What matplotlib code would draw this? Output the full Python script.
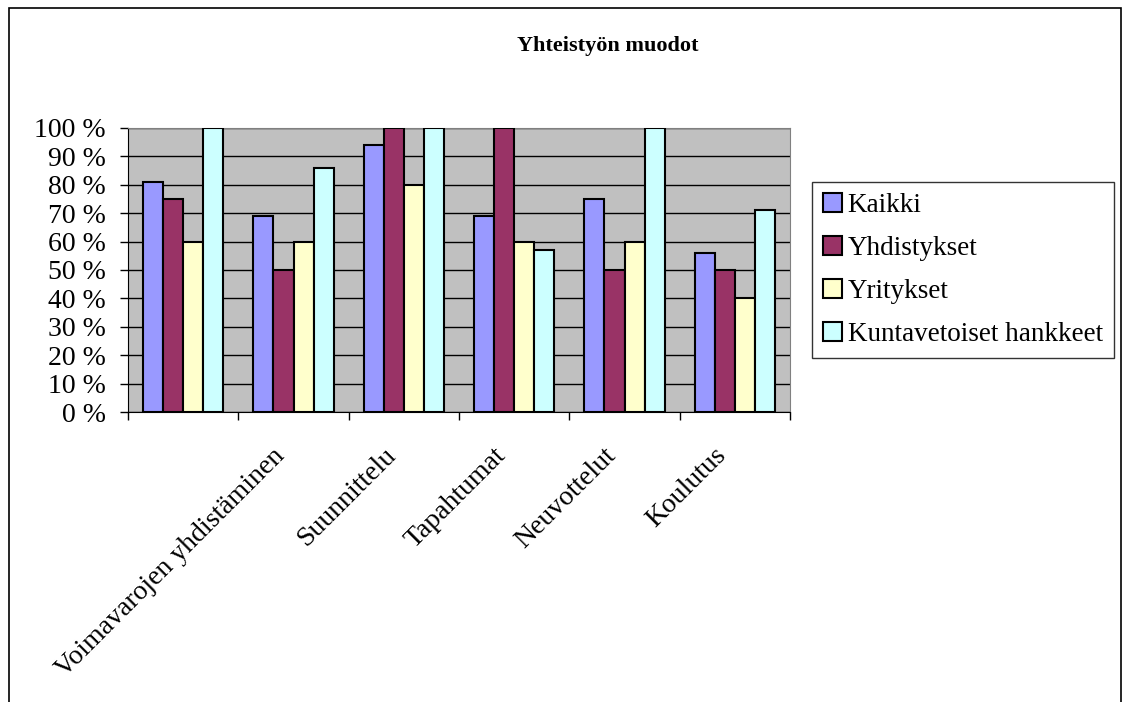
import matplotlib
matplotlib.use("Agg")
import matplotlib.pyplot as plt
import numpy as np
from matplotlib.patches import Rectangle

# data (percent); first group has no visible label
categories = ["", "Voimavarojen yhdistäminen", "Suunnittelu", "Tapahtumat",
              "Neuvottelut", "Koulutus"]
series_names = ["Kaikki", "Yhdistykset", "Yritykset", "Kuntavetoiset hankkeet"]
kaikki = [81, 69, 94, 69, 75, 56]
yhdistykset = [75, 50, 100, 100, 50, 50]
yritykset = [60, 60, 80, 60, 60, 40]
kunta = [100, 86, 100, 57, 100, 71]
colors = ["#9999FF", "#993366", "#FFFFCC", "#CCFFFF"]
yticks = list(range(0, 101, 10))

plt.rcParams['font.family'] = ['Liberation Serif', 'DejaVu Serif']

fig = plt.figure(figsize=(11.23, 7.02), dpi=100)
ax = fig.add_axes([0.114, 0.4131, 0.5895, 0.4046])
ax.set_facecolor("#C0C0C0")

x = np.arange(len(categories))
w = 1 / 5.5
allvals = [kaikki, yhdistykset, yritykset, kunta]
for i, vals in enumerate(allvals):
    ax.bar(x + (i - 1.5) * w, vals, width=w, color=colors[i],
           edgecolor="black", linewidth=1.5, label=series_names[i], zorder=3)

ax.set_xlim(-0.5, len(categories) - 0.5)
ax.set_ylim(0, 100)
ax.set_yticks(yticks)
ax.set_yticklabels([str(t) + " %" for t in yticks], fontsize=20)
ax.yaxis.grid(True, color="black", linewidth=1, zorder=1)
ax.set_axisbelow(True)

# tick marks between groups, labels drawn as rotated text
ax.set_xticks(np.arange(-0.5, len(categories)))
ax.set_xticklabels([])
ax.tick_params(axis="x", length=6, width=1, color="black")
ax.tick_params(axis="y", length=6, width=1, color="black", pad=10)
for xi, lab in zip(x, categories):
    ax.text(xi - 0.19, -11, lab, rotation=45, ha="right", va="top",
            rotation_mode="anchor", fontsize=20, clip_on=False)

for side in ["top", "right"]:
    ax.spines[side].set_color("#808080")

fig.text(0.541, 0.935, "Yhteistyön muodot", ha="center", va="center",
         fontsize=16, fontweight="bold")

leg = fig.legend(loc="upper left", bbox_to_anchor=(0.723, 0.741),
                 fontsize=19.5, frameon=True, fancybox=False,
                 handlelength=0.7, handleheight=0.7, handletextpad=0.2,
                 labelspacing=0.66, borderpad=0.42, borderaxespad=0)
leg.get_frame().set_edgecolor("black")
leg.get_frame().set_linewidth(1)

# outer chart border
fig.patches.append(Rectangle((9 / 1123, -0.01), 1112 / 1123, 1 - 8 / 702 + 0.01,
                             transform=fig.transFigure, fill=False,
                             edgecolor="black", linewidth=1.2))

fig.savefig("out.png", dpi=100)
